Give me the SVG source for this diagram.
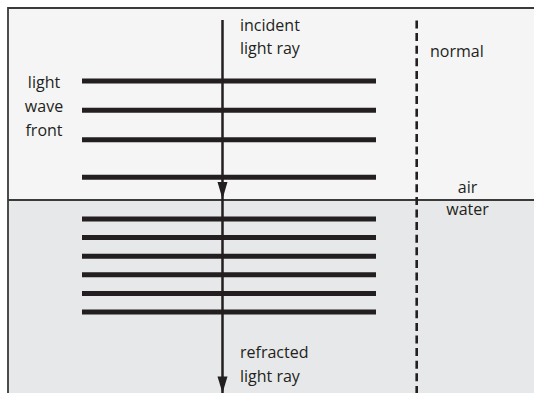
<svg xmlns="http://www.w3.org/2000/svg" width="534" height="393" viewBox="0 0 534 393">
  <defs>
    <style>
      .lbl { font-family: "Open Sans", "Noto Sans", sans-serif; font-size: 16px; fill: #231f20; }
      .mid { text-anchor: middle; }
      .front { stroke: #231f20; stroke-width: 5; }
      .ray { stroke: #231f20; stroke-width: 2.5; fill: none; }
      .head { fill: #231f20; }
      .edge { stroke: #3a3a3a; stroke-width: 1.8; fill: none; }
    </style>
  </defs>

  <rect x="0" y="0" width="534" height="393" fill="#ffffff"/>

  <!-- media: air above, water below -->
  <g id="air">
    <rect x="8" y="8" width="526" height="192" fill="#f5f5f5"/>
  </g>
  <g id="water">
    <rect x="8" y="200" width="526" height="193" fill="#e7e8e9"/>
  </g>

  <!-- frame and boundary -->
  <g id="frame">
    <path class="edge" d="M8 393 V8 H534"/>
    <path class="edge" d="M8 200 H534" stroke-width="1.6"/>
  </g>

  <!-- wave fronts in air -->
  <g id="fronts-air">
    <line class="front" x1="82" y1="81" x2="376" y2="81"/>
    <line class="front" x1="82" y1="110.3" x2="376" y2="110.3"/>
    <line class="front" x1="82" y1="139.7" x2="376" y2="139.7"/>
    <line class="front" x1="82" y1="177.3" x2="376" y2="177.3"/>
  </g>

  <!-- wave fronts in water (closer together) -->
  <g id="fronts-water">
    <line class="front" x1="82" y1="219" x2="376" y2="219"/>
    <line class="front" x1="82" y1="237.6" x2="376" y2="237.6"/>
    <line class="front" x1="82" y1="256.2" x2="376" y2="256.2"/>
    <line class="front" x1="82" y1="274.8" x2="376" y2="274.8"/>
    <line class="front" x1="82" y1="293.4" x2="376" y2="293.4"/>
    <line class="front" x1="82" y1="312" x2="376" y2="312"/>
  </g>

  <!-- connectors: light ray and normal -->
  <g id="connectors">
    <line class="ray" x1="222.5" y1="20" x2="222.5" y2="393"/>
    <polygon class="head" points="217.5,182 227.5,182 222.5,199"/>
    <polygon class="head" points="217.5,376.5 227.5,376.5 222.5,393"/>
    <line x1="416.7" y1="20.5" x2="416.7" y2="393" stroke="#231f20" stroke-width="2.6" stroke-dasharray="8 4.6"/>
  </g>

  <!-- labels -->
  <g id="label-incident">
    <text class="lbl" x="240" y="31">incident</text>
    <text class="lbl" x="240" y="54">light ray</text>
  </g>
  <g id="label-normal">
    <text class="lbl" x="430" y="57">normal</text>
  </g>
  <g id="label-wavefront">
    <text class="lbl mid" x="44" y="88">light</text>
    <text class="lbl mid" x="44" y="112">wave</text>
    <text class="lbl mid" x="44" y="136">front</text>
  </g>
  <g id="label-air">
    <text class="lbl mid" x="467.5" y="193">air</text>
  </g>
  <g id="label-water">
    <text class="lbl mid" x="467.5" y="215">water</text>
  </g>
  <g id="label-refracted">
    <text class="lbl" x="240" y="358">refracted</text>
    <text class="lbl" x="240" y="382">light ray</text>
  </g>
</svg>
